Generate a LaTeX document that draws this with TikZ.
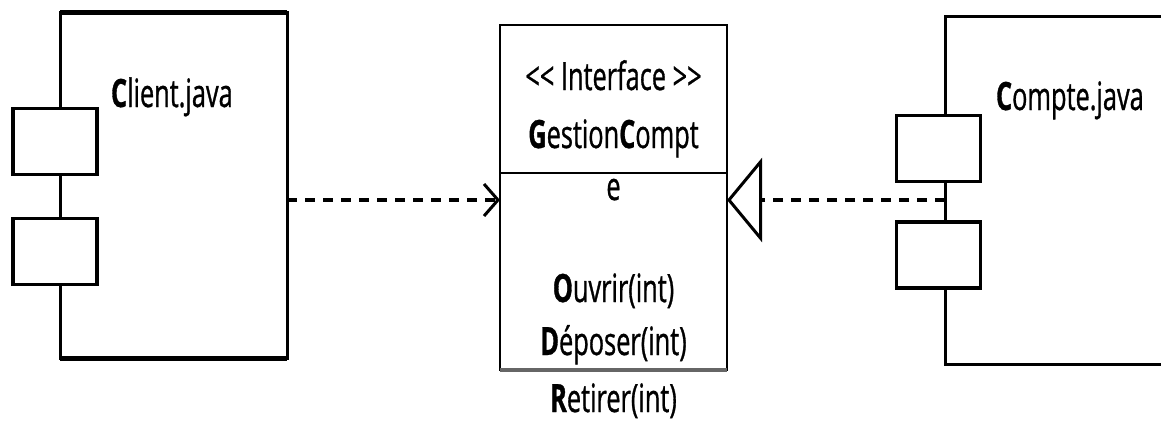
\documentclass[tikz,border=0pt]{standalone}
\usepackage{fontspec}
\setmainfont[FakeStretch=0.65, FakeBold=0.8]{Open Sans}
\usetikzlibrary{arrows.meta}
\begin{document}
\begin{tikzpicture}[x=1pt,y=-1pt,
  comp/.style={draw, line width=3pt, fill=white, rectangle, inner sep=0pt, outer sep=0pt},
  port/.style={draw, line width=3.5pt, fill=white, rectangle, minimum width=84pt, minimum height=66pt, inner sep=0pt, outer sep=0pt},
  lbl/.style={font=\fontsize{39}{40}\selectfont, inner sep=0pt, outer sep=0pt, text=black},
  dep/.style={line width=4pt, dash pattern=on 10pt off 8pt},
]
\useasboundingbox (0,0) rectangle (1161,426);
\clip (0,0) rectangle (1161,426);

% Client component
\node[comp, minimum width=227pt, minimum height=346pt] (client) at (173.5,185.5) {};
\draw[line width=5pt] (client.north west) -- (client.north east);
\draw[line width=5pt] (client.south west) -- (client.south east);
\node[port] (cp1) at (55,141.5) {};
\node[port] (cp2) at (55,251.5) {};
\node[lbl, anchor=base west] (clientlbl) at (111,107) {\textbf{C}lient.java};

% Interface
\node[comp, line width=2.5pt, minimum width=227pt, minimum height=345pt] (iface) at (613.5,197.5) {};
\coordinate (divl) at (iface.west |- 0,173);
\coordinate (divr) at (iface.east |- 0,173);
\draw[line width=2.5pt] (divl) -- (divr);
\draw[line width=4pt, black!60] (iface.south west) -- (iface.south east);
\node[lbl, anchor=base] (stereo) at (613.5,90) {<{}< Interface >{}>};
\node[lbl, anchor=base] (iname) at (613.5,148) {\textbf{G}estion\textbf{C}ompt};
\node[lbl, anchor=base] (iname2) at (613.5,200) {e};
\node[lbl, anchor=base] (op1) at (613.5,302) {\textbf{O}uvrir(int)};
\node[lbl, anchor=base] (op2) at (613.5,355) {\textbf{D}époser(int)};
\node[lbl, anchor=base] (op3) at (613.5,412) {\textbf{R}etirer(int)};

% Compte component
\node[comp, minimum width=240pt, minimum height=348pt] (compte) at (1065,190.5) {};
\node[port] (kp1) at (938.5,148.5) {};
\node[port] (kp2) at (938.5,255) {};
\node[lbl, anchor=base west] (comptelbl) at (996,110) {\textbf{C}ompte.java};

% Connectors
\draw[dep, -{Straight Barb[length=14pt, width=32pt, line width=3pt]}]
  (client.east |- 0,200) -- (iface.west |- 0,200);
\draw[dep, -{Triangle[open, length=35pt, width=84pt, line width=3pt]}]
  (compte.west |- 0,200) -- (iface.east |- 0,200);
\end{tikzpicture}
\end{document}
